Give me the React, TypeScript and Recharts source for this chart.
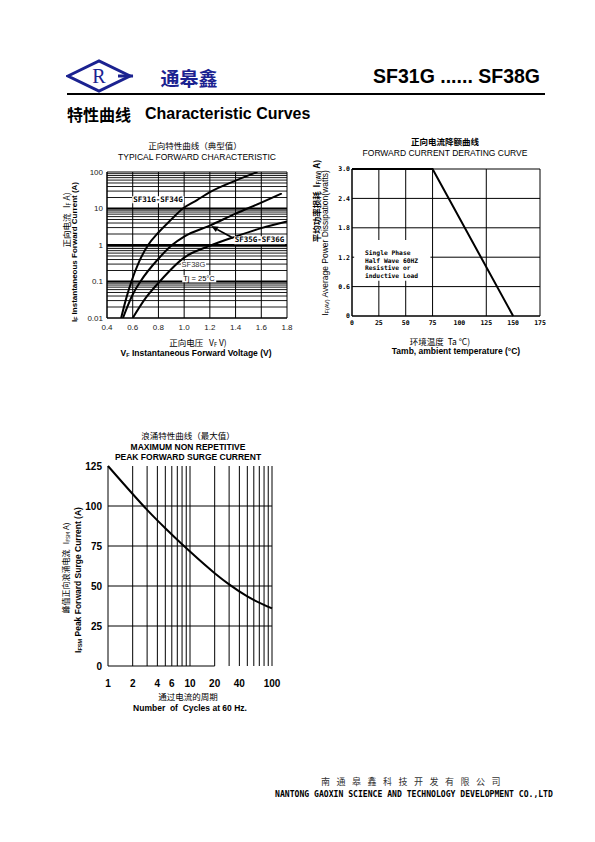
import React from 'react';
import { LineChart, Line, XAxis, YAxis, CartesianGrid, ReferenceLine, ReferenceArea } from 'recharts';

// typical forward characteristic, Tj = 25°C  (v = volts, i = amps)
const fwdSF31_34 = [
  { v: 0.51, i: 0.01 }, { v: 0.55, i: 0.035 }, { v: 0.59, i: 0.1 }, { v: 0.65, i: 0.35 },
  { v: 0.72, i: 1 }, { v: 0.8, i: 2.2 }, { v: 0.9, i: 5 }, { v: 0.99, i: 10 },
  { v: 1.1, i: 17 }, { v: 1.2, i: 28 }, { v: 1.4, i: 58 }, { v: 1.57, i: 100 },
];
const fwdSF35_36 = [
  { v: 0.524, i: 0.01 }, { v: 0.6, i: 0.044 }, { v: 0.66, i: 0.1 }, { v: 0.8, i: 0.42 },
  { v: 0.906, i: 1 }, { v: 1.0, i: 1.7 }, { v: 1.2, i: 3.4 }, { v: 1.4, i: 7.2 },
  { v: 1.6, i: 14.5 }, { v: 1.76, i: 26 },
];
const fwdSF38 = [
  { v: 0.6, i: 0.01 }, { v: 0.7, i: 0.035 }, { v: 0.81, i: 0.1 }, { v: 1.0, i: 0.45 },
  { v: 1.2, i: 0.95 }, { v: 1.4, i: 1.7 }, { v: 1.6, i: 2.9 }, { v: 1.8, i: 4.4 },
];
const fwdVTicks = [0.4, 0.6, 0.8, 1.0, 1.2, 1.4, 1.6, 1.8];
const fwdITicks = [0.01, 0.1, 1, 10, 100];
const decades = [0.01, 0.1, 1, 10];
const mantissas = [2, 3, 4, 5, 6, 7, 8, 9];

// forward current derating
const derating = [{ ta: 0, p: 3.0 }, { ta: 75, p: 3.0 }, { ta: 150, p: 0 }];
const taTicks = [0, 25, 50, 75, 100, 125, 150, 175];
const pTicks = [0, 0.6, 1.2, 1.8, 2.4, 3.0];
const boxNote = ['Single Phase', 'Half Wave 60HZ', 'Resistive or', 'inductive Load'];

// peak forward surge current
const surge = [
  { n: 1, a: 125 }, { n: 2, a: 107.5 }, { n: 3, a: 97.6 }, { n: 4, a: 91 }, { n: 5, a: 86.1 },
  { n: 8, a: 76.1 }, { n: 10, a: 71.5 }, { n: 20, a: 58 }, { n: 30, a: 51 }, { n: 50, a: 43.5 },
  { n: 100, a: 36 },
];
const cycleTicks = [1, 2, 4, 6, 10, 20, 40, 100];
const cycleGrid = [2, 3, 4, 5, 6, 7, 8, 9, 10, 20, 30, 40, 50, 60, 70, 80, 90, 100];
const surgeGrid = [25, 50, 75, 100];
const surgeTicks = [0, 25, 50, 75, 100, 125];

const minorGrid = decades.flatMap((d) => mantissas.map((k) => +(d * k).toPrecision(2)));

const CJK = '"Noto Sans CJK SC", sans-serif';
const SANS = '"Liberation Sans", Arial, sans-serif';
const MONO = '"DejaVu Sans Mono", monospace';

const T = ({ x, y, size = 8.5, bold = false, rot = false, font = SANS, color = '#000', anchor = 'middle', ls, bg, children }: any) => (
  <div
    style={{
      position: 'absolute', left: x, top: y, whiteSpace: 'nowrap', lineHeight: 1,
      transform: `translate(${anchor === 'middle' ? '-50%' : anchor === 'end' ? '-100%' : '0'}, -50%)${rot ? ' rotate(-90deg)' : ''}`,
      fontSize: size, fontWeight: bold ? 700 : 400, fontFamily: font, color, letterSpacing: ls,
      background: bg, padding: bg ? '0 1px' : undefined,
    }}
  >
    {children}
  </div>
);

const Sub = ({ children }: any) => <span style={{ fontSize: '0.65em', verticalAlign: '-0.2em' }}>{children}</span>;

const Arrow = (props: any) => {
  const { x1, y1, x2, y2 } = props;
  const a = Math.atan2(y2 - y1, x2 - x1);
  const L = 7, W = 3;
  const bx = x2 - L * Math.cos(a), by = y2 - L * Math.sin(a);
  const px = -Math.sin(a) * W, py = Math.cos(a) * W;
  return (
    <g>
      <line x1={x1} y1={y1} x2={bx} y2={by} stroke="#000" strokeWidth={1.6} />
      <polygon points={`${x2},${y2} ${bx + px},${by + py} ${bx - px},${by - py}`} fill="#000" />
    </g>
  );
};

const Logo = () => (
  <svg width={68} height={34} style={{ position: 'absolute', left: 66, top: 59 }}>
    <polygon points="2,17 33,2 64,17 33,32" fill="none" stroke="#1b2290" strokeWidth={3} />
    <line x1={52} y1={17} x2={67} y2={17} stroke="#1b2290" strokeWidth={3} />
    <text x={33} y={24} textAnchor="middle" fontSize={20} fontFamily='"Liberation Serif", serif' fill="#1b2290">R</text>
  </svg>
);

const ForwardChart = () => (
  <div style={{ position: 'absolute', left: 60, top: 165 }}>
    <LineChart width={240} height={173} margin={{ top: 7, right: 13, bottom: 0, left: 0 }}>
      <CartesianGrid stroke="#000" strokeWidth={1} />
      <XAxis
        type="number" dataKey="v" domain={[0.4, 1.8]} ticks={fwdVTicks} allowDataOverflow height={20}
        tickFormatter={(v: number) => v.toFixed(1)} axisLine={{ stroke: '#000' }} tickLine={false} tickMargin={0}
        tick={{ fontSize: 8, fill: '#222', fontFamily: SANS }}
      />
      <YAxis
        type="number" scale="log" domain={[0.01, 100]} ticks={fwdITicks} allowDataOverflow width={47}
        tickFormatter={(v: number) => String(v)} axisLine={{ stroke: '#000' }} tickLine={false} tickSize={2} tickMargin={2}
        tick={{ fontSize: 8, fill: '#222', fontFamily: SANS }}
      />
      {minorGrid.map((g) => (
        <ReferenceLine key={g} y={g} stroke="#000" strokeWidth={0.9} />
      ))}
      {[0.1, 1, 10].map((d) => (
        <ReferenceLine key={'d' + d} y={d} stroke="#000" strokeWidth={2} />
      ))}
      <Line data={fwdSF31_34} dataKey="i" type="monotone" dot={false} stroke="#000" strokeWidth={2} isAnimationActive={false} />
      <Line data={fwdSF35_36} dataKey="i" type="monotone" dot={false} stroke="#000" strokeWidth={2} isAnimationActive={false} />
      <Line data={fwdSF38} dataKey="i" type="monotone" dot={false} stroke="#000" strokeWidth={2} isAnimationActive={false} />
      <ReferenceLine segment={[{ x: 1.38, y: 1.55 }, { x: 1.21, y: 3.3 }]} shape={Arrow} />
    </LineChart>
  </div>
);

const DeratingChart = () => (
  <div style={{ position: 'absolute', left: 310, top: 160 }}>
    <LineChart width={240} height={176} data={derating} margin={{ top: 9, right: 10, bottom: 0, left: 0 }}>
      <CartesianGrid stroke="#000" strokeWidth={1} />
      <XAxis
        type="number" dataKey="ta" domain={[0, 175]} ticks={taTicks} height={20}
        axisLine={{ stroke: '#000' }} tickLine={false} tickSize={2} tickMargin={2}
        tick={{ fontSize: 6.5, fill: '#000', fontFamily: MONO, fontWeight: 700 }}
      />
      <YAxis
        type="number" domain={[0, 3]} ticks={pTicks} width={42}
        tickFormatter={(v: number) => (v === 0 ? '0' : v.toFixed(1))}
        axisLine={{ stroke: '#000' }} tickLine={false} tickSize={1} tickMargin={1}
        tick={{ fontSize: 6.5, fill: '#000', fontFamily: MONO, fontWeight: 700 }}
      />
      <ReferenceArea x1={2} x2={73} y1={0.72} y2={1.55} fill="#fff" fillOpacity={1} stroke="none" />
      <Line dataKey="p" type="linear" dot={false} stroke="#000" strokeWidth={2} isAnimationActive={false} />
    </LineChart>
  </div>
);

const SurgeChart = () => (
  <div style={{ position: 'absolute', left: 60, top: 458 }}>
    <LineChart width={222} height={233} data={surge} margin={{ top: 8, right: 10, bottom: 0, left: 0 }}>
      <XAxis
        type="number" dataKey="n" scale="log" domain={[1, 100]} ticks={cycleTicks} height={25}
        axisLine={false} tickLine={false} tickMargin={8}
        tick={{ fontSize: 10, fill: '#000', fontFamily: SANS, fontWeight: 700 }}
      />
      <YAxis
        type="number" domain={[0, 125]} ticks={surgeTicks} width={48}
        axisLine={{ stroke: '#000' }} tickLine={false} tickSize={4} tickMargin={2}
        tick={{ fontSize: 10, fill: '#000', fontFamily: SANS, fontWeight: 700 }}
      />
      {cycleGrid.map((c) => (
        <ReferenceLine key={'c' + c} x={c} stroke="#000" strokeWidth={1} />
      ))}
      {surgeGrid.map((s) => (
        <ReferenceLine key={'s' + s} y={s} stroke="#000" strokeWidth={1} />
      ))}
      <ReferenceLine segment={[{ x: 1, y: 0 }, { x: 20, y: 0 }]} stroke="#000" strokeWidth={1} />
      <Line dataKey="a" type="monotone" dot={false} stroke="#000" strokeWidth={2} isAnimationActive={false} />
    </LineChart>
  </div>
);

export default function App() {
  return (
    <div style={{ position: 'absolute', left: 0, top: 0, width: 595, height: 842, background: '#fff', fontFamily: SANS, overflow: 'hidden' }}>
      {/* header */}
      <Logo />
      <T x={189} y={77} size={19} bold font={CJK} color="#1b2290">通皋鑫</T>
      <T x={540} y={77} size={19.5} bold anchor="end">SF31G ...... SF38G</T>
      <div style={{ position: 'absolute', left: 67, top: 93, width: 478, height: 2, background: '#000' }} />
      <T x={67} y={114} size={16} bold font={CJK} anchor="start">特性曲线</T>
      <T x={145} y={114} size={16} bold anchor="start">Characteristic Curves</T>

      {/* forward characteristic */}
      <T x={195} y={145} size={8.5} font={CJK}>正向特性曲线（典型值）</T>
      <T x={197} y={157} size={8.5}>TYPICAL FORWARD CHARACTERISTIC</T>
      <ForwardChart />
      <T x={158} y={199.5} size={7.5} bold font={MONO} bg="#fff">SF31G-SF34G</T>
      <T x={259.5} y={240} size={7.5} bold font={MONO} bg="#fff">SF35G-SF36G</T>
      <T x={193.5} y={265} size={7.5} font={SANS} color="#333" bg="#fff">SF38G</T>
      <T x={199} y={278.5} size={7.5} font={SANS} bg="#fff">Tj = 25°C</T>
      <T x={198} y={343} size={8.5} font={CJK}>正向电压&nbsp;&nbsp;&nbsp;V<Sub>F</Sub> V)</T>
      <T x={196} y={354} size={8.5} bold>V<Sub>F</Sub> Instantaneous Forward Voltage (V)</T>
      <T x={67} y={220} size={8.5} rot font={CJK}>正向电流&nbsp;&nbsp;&nbsp;I<Sub>F</Sub> A)</T>
      <T x={74.5} y={252} size={8} rot bold>I<Sub>F</Sub> Instantaneous Forward Current (A)</T>

      {/* derating */}
      <T x={445} y={141} size={8.5} bold font={CJK}>正向电流降额曲线</T>
      <T x={445} y={152.5} size={8.5}>FORWARD CURRENT DERATING CURVE</T>
      <DeratingChart />
      <div style={{ position: 'absolute', left: 365, top: 249, fontFamily: MONO, fontWeight: 700, fontSize: 6.3, lineHeight: '7.5px', whiteSpace: 'pre' }}>
        {boxNote.map((s) => <div key={s}>{s}</div>)}
      </div>
      <T x={317} y={201} size={8.5} rot bold font={CJK}>平均功率损耗&nbsp;&nbsp;I<Sub>F(AV)</Sub>&nbsp;A)</T>
      <T x={325.5} y={243} size={8.5} rot>I<Sub>F(AV)</Sub> Average Power Dissipation(watts)</T>
      <T x={440} y={341} size={8.5} font={CJK}>环境温度&nbsp;&nbsp;Ta&nbsp;°C)</T>
      <T x={456} y={351} size={8.5} bold>Tamb, ambient temperature (°C)</T>

      {/* surge */}
      <T x={188} y={435} size={8.5} font={CJK}>浪涌特性曲线（最大值）</T>
      <T x={188} y={447} size={8.5} bold>MAXIMUM NON REPETITIVE</T>
      <T x={188} y={456.5} size={8.5} bold>PEAK FORWARD SURGE CURRENT</T>
      <SurgeChart />
      <T x={66} y={568} size={8} rot font={CJK}>峰值正向浪涌电流&nbsp;&nbsp;&nbsp;I<Sub>FSM</Sub> A)</T>
      <T x={78.5} y={580} size={8.5} rot bold>I<Sub>FSM</Sub> Peak Forward Surge Current (A)</T>
      <T x={188} y={696} size={8.5} font={CJK}>通过电流的周期</T>
      <T x={190} y={707.5} size={8.5} bold>Number&nbsp;&nbsp;of&nbsp;&nbsp;Cycles at 60 Hz.</T>

      {/* footer */}
      <T x={414} y={781} size={9} font={CJK} color="#333" ls={6.5}>南通皋鑫科技开发有限公司</T>
      <T x={414} y={793.5} size={8.1} bold font={MONO}>NANTONG GAOXIN SCIENCE AND TECHNOLOGY DEVELOPMENT CO.,LTD</T>
    </div>
  );
}
